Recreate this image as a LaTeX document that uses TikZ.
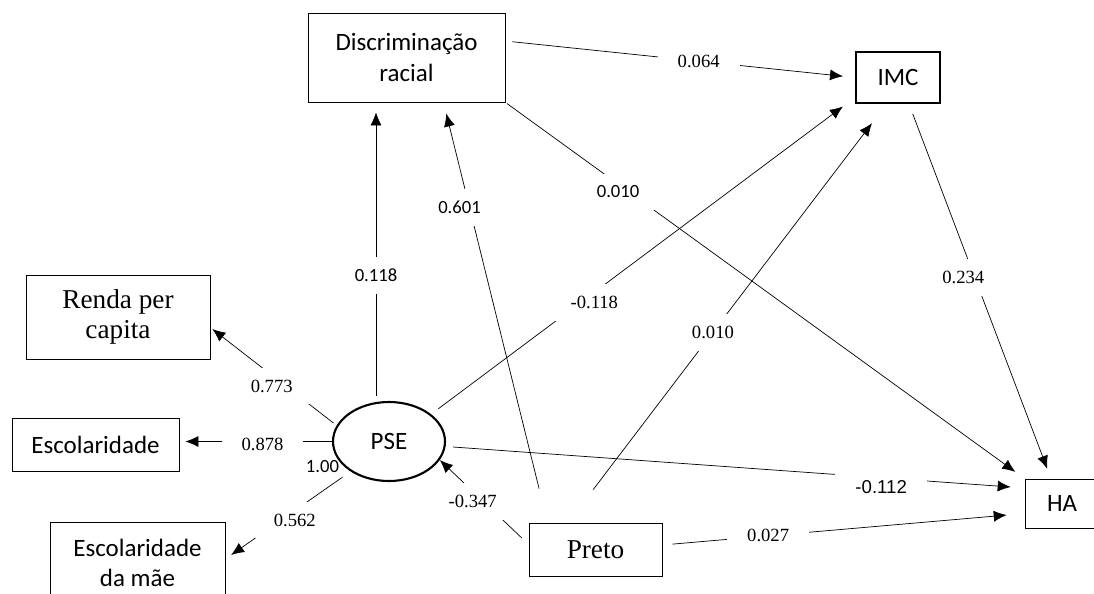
\documentclass[tikz,border=0pt]{standalone}
\usepackage{fontspec}
\setmainfont{Liberation Serif}
\newfontfamily\calib{Carlito}
\newfontfamily\arl{Liberation Sans}
\usetikzlibrary{shapes.geometric,arrows.meta}

\begin{document}
\begin{tikzpicture}[>={Latex[length=2.6mm,width=2.2mm]},
  box/.style={draw, inner sep=2pt, align=center},
  sbox/.style={box, font=\calib\fontsize{14.2}{17}\selectfont},
  tbox/.style={box, font=\fontsize{15.5}{17}\selectfont},
  lbl/.style={fill=white, inner xsep=.4cm, inner ysep=.24cm, font=\fontsize{10.6}{12}\selectfont},
  slbl/.style={lbl, font=\calib\fontsize{10.6}{12}\selectfont}]
\useasboundingbox (0,0) rectangle (21.88,-11.86);
% variables
\node[sbox, minimum width=3.94cm, minimum height=1.78cm, font=\calib\fontsize{14.2}{18}\selectfont] (disc) at (8.13,-1.15) {Discriminação\\racial};
\node[sbox, line width=1.2pt, minimum width=1.68cm, minimum height=1.02cm] (imc) at (17.96,-1.55) {IMC};
\node[tbox, minimum width=3.68cm, minimum height=1.68cm] (renda) at (2.36,-6.34) {Renda per\\capita};
\node[sbox, minimum width=3.34cm, minimum height=1.06cm] (esc) at (1.91,-8.89) {Escolaridade};
\node[sbox, minimum width=3.5cm, minimum height=1.64cm] (escmae) at (2.75,-11.26) {Escolaridade\\da mãe};
\node[ellipse, draw, line width=1.2pt, inner sep=0pt, minimum width=2.24cm, minimum height=1.58cm,
  font=\calib\fontsize{14.2}{18}\selectfont] (pse) at (7.78,-8.83) {PSE};
\node[tbox, minimum width=2.66cm, minimum height=1.06cm] (preto) at (11.91,-10.99) {Preto};
\node[sbox, minimum width=1.48cm, minimum height=.98cm] (ha) at (21.24,-10.07) {HA};
% paths
\draw[->, shorten <=.1cm, shorten >=.2cm] ([xshift=-.26cm]pse.north) -- node[slbl, pos=.42] (l1) {0.118} ([xshift=-.61cm]disc.south);
\draw[->, shorten <=.7cm, shorten >=.23cm] ([xshift=-.96cm]preto.north) -- node[slbl, pos=.75, xshift=-.2cm] (l2) {0.601} ([xshift=.74cm]disc.south);
\draw[->, shorten <=.18cm, shorten >=.3cm] (pse.33) -- node[lbl, pos=.385, yshift=-.2cm] (l3) {-0.118} ([yshift=-.4cm]imc.west);
\draw[->, shorten <=.83cm, shorten >=.48cm] ([xshift=-.55cm]preto.north) -- node[lbl, pos=.455] (l4) {0.010} ([xshift=-.23cm]imc.south);
\draw[->, shorten <=.14cm, shorten >=.24cm] ([yshift=.33cm]disc.east) -- node[lbl, pos=.553] (l5) {0.064} (imc.west);
\draw[->, shorten <=.04cm, shorten >=.23cm] (disc.south east) -- node[slbl, pos=.217, yshift=-.16cm] (l6) {0.010} (ha.north west);
\draw[->, shorten <=.21cm, shorten >=.21cm] ([xshift=.22cm]imc.south) -- node[lbl, pos=.463, xshift=-.23cm] (l7) {0.234} ([xshift=-.22cm]ha.north);
\draw[->, shorten <=.14cm, shorten >=.28cm] ([yshift=-.1cm]pse.east) -- node[lbl, font=\arl\fontsize{10.6}{12}\selectfont, pos=.752, yshift=-.18cm] (l8) {-0.112} ([yshift=.31cm]ha.west);
\draw[->, shorten <=.2cm, shorten >=.36cm] ([yshift=.09cm]preto.east) -- node[lbl, pos=.292] (l9) {0.027} ([yshift=-.2cm]ha.west);
\draw[->, shorten <=.19cm] ([yshift=.1cm]preto.west) -- node[lbl, inner xsep=.2cm, pos=.63, yshift=-.2cm] (l10) {-0.347} (pse.-20);
\draw[->, shorten <=.08cm, shorten >=.05cm] (pse.163) -- node[lbl, pos=.514, yshift=-.22cm] (l11) {0.773} ([yshift=-.21cm]renda.east);
\draw[->, shorten >=.12cm] (pse.west) -- node[lbl, pos=.455, yshift=-.06cm] (l12) {0.878} (pse.west -| esc.east);
\draw[->, shorten <=.2cm, shorten >=.14cm] (pse.218) -- node[lbl, pos=.446, yshift=-.19cm] (l13) {0.562} ([yshift=.08cm]escmae.east);
\node[font=\calib\fontsize{10.6}{12}\selectfont] (l14) at (6.45,-9.34) {1.00};
\end{tikzpicture}
\end{document}
